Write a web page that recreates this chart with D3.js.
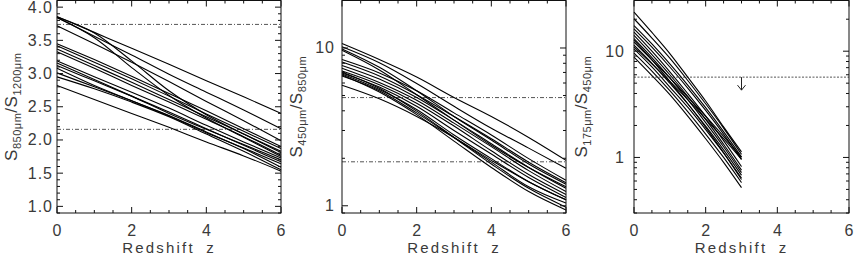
<!DOCTYPE html>
<html>
<head>
<meta charset="utf-8">
<script src="https://cdn.jsdelivr.net/npm/d3@7"></script>
<style>
  body { margin: 0; background: #fff; }
  text { font-family: "Liberation Sans", Arial, sans-serif; fill: #3a3a3a; }
</style>
</head>
<body>
<div id="chart"></div>
<script>
// redshift grids
var redshift = [0, 1, 2, 3, 4, 5, 6];
var redshiftShort = [0, 0.5, 1, 1.5, 2, 2.5, 3];
var xMajor = [0, 2, 4, 6];

// S850/S1200 model tracks
var ratio850_1200 = [
  [3.86, 3.62, 3.38, 3.14, 2.89, 2.65, 2.40],
  [3.85, 3.56, 3.28, 2.99, 2.72, 2.45, 2.17],
  [3.85, 3.61, 3.19, 2.74, 2.38, 2.09, 1.83],
  [3.84, 3.54, 3.09, 2.67, 2.33, 2.04, 1.75],
  [3.72, 3.45, 3.17, 2.88, 2.58, 2.29, 1.99],
  [3.45, 3.21, 2.96, 2.70, 2.44, 2.17, 1.90],
  [3.42, 3.17, 2.92, 2.66, 2.39, 2.13, 1.87],
  [3.37, 3.12, 2.87, 2.61, 2.35, 2.09, 1.81],
  [3.33, 3.08, 2.82, 2.57, 2.31, 2.05, 1.77],
  [3.19, 2.95, 2.72, 2.48, 2.22, 1.97, 1.73],
  [3.16, 2.91, 2.66, 2.40, 2.16, 1.93, 1.70],
  [3.12, 2.89, 2.66, 2.42, 2.17, 1.92, 1.67],
  [3.08, 2.82, 2.59, 2.36, 2.11, 1.88, 1.64],
  [3.01, 2.80, 2.59, 2.37, 2.12, 1.87, 1.59],
  [2.95, 2.77, 2.57, 2.35, 2.09, 1.83, 1.55],
  [2.82, 2.61, 2.40, 2.19, 1.97, 1.76, 1.53]
];
var obs850_1200 = [3.74, 2.16];

// S450/S850 model tracks
var ratio450_850 = [
  [10.67, 8.45, 6.55, 4.86, 3.68, 2.71, 1.94],
  [10.17, 8.05, 5.95, 4.27, 3.10, 2.32, 1.73],
  [9.87, 7.55, 5.36, 3.68, 2.61, 1.84, 1.37],
  [9.66, 7.25, 5.06, 3.49, 2.42, 1.75, 1.32],
  [8.45, 6.95, 5.36, 3.88, 2.81, 1.99, 1.45],
  [8.15, 6.65, 5.06, 3.68, 2.66, 1.89, 1.40],
  [7.75, 6.35, 4.86, 3.49, 2.47, 1.75, 1.29],
  [7.45, 6.05, 4.67, 3.34, 2.37, 1.67, 1.23],
  [7.15, 5.85, 4.47, 3.20, 2.23, 1.58, 1.18],
  [6.95, 5.65, 4.27, 3.00, 2.13, 1.51, 1.13],
  [6.85, 5.46, 4.08, 2.81, 1.99, 1.42, 1.09],
  [6.65, 5.36, 3.88, 2.71, 1.89, 1.32, 1.04],
  [7.05, 5.55, 3.98, 2.71, 1.84, 1.29, 0.98],
  [6.75, 5.26, 3.78, 2.57, 1.75, 1.23, 0.94],
  [5.80, 4.76, 3.68, 2.71, 1.94, 1.42, 1.09]
];
var obs450_850 = [4.85, 1.9];

// S175/S450 model tracks (z <= 3)
var ratio175_450 = [
  [23.3, 15.0, 9.5, 5.7, 3.4, 1.94, 1.13],
  [20.2, 13.3, 8.6, 5.3, 3.2, 1.89, 1.07],
  [17.4, 11.7, 7.6, 4.8, 2.94, 1.75, 1.01],
  [16.2, 10.9, 7.1, 4.5, 2.77, 1.66, 0.96],
  [15.1, 10.0, 6.4, 4.0, 2.45, 1.44, 0.82],
  [14.1, 9.3, 6.0, 3.75, 2.28, 1.33, 0.76],
  [13.1, 8.7, 5.6, 3.5, 2.13, 1.26, 0.72],
  [12.2, 8.3, 5.6, 3.7, 2.45, 1.58, 1.00],
  [12.7, 8.3, 5.2, 3.2, 1.92, 1.11, 0.62],
  [11.4, 7.7, 5.0, 3.2, 1.97, 1.18, 0.68],
  [11.0, 7.6, 5.2, 3.5, 2.3, 1.5, 0.96],
  [10.5, 7.1, 4.6, 2.97, 1.83, 1.10, 0.64],
  [9.6, 6.5, 4.25, 2.7, 1.66, 1.00, 0.58],
  [8.8, 5.9, 3.9, 2.45, 1.5, 0.90, 0.52]
];
var limit175_450 = 5.7;
var limitArrowTo = 4.3;
var limitZ = 3;

function draw_panel(svg, p) {
  "use strict";
  var top = 0.5, bottom = 213;

  var x = d3.scaleLinear().domain([0, 6]).range([p.left, p.right]);
  var y = (p.log ? d3.scaleLog() : d3.scaleLinear())
      .domain(p.domain).range([bottom, top]);

  var g = svg.append("g").attr("class", "panel");

  var line = d3.line()
      .x(function(d) { return x(d[0]); })
      .y(function(d) { return y(d[1]); })
      .curve(d3.curveMonotoneX);

  // reference levels
  p.levels.forEach(function(v) {
    g.append("line")
        .attr("x1", x(0)).attr("x2", x(6))
        .attr("y1", y(v)).attr("y2", y(v))
        .style("stroke", "#555")
        .style("stroke-width", 1)
        .style("stroke-dasharray", p.dash);
  });

  g.selectAll("path.track")
      .data(p.tracks)
      .enter()
      .append("path")
      .attr("class", "track")
      .attr("d", function(d) { return line(d.map(function(v, i) { return [p.z[i], v]; })); })
      .style("fill", "none")
      .style("stroke", "#000")
      .style("stroke-width", 1.1);

  // box
  g.append("rect")
      .attr("x", p.left).attr("y", top)
      .attr("width", p.right - p.left).attr("height", bottom - top)
      .style("fill", "none").style("stroke", "#111").style("stroke-width", 1);

  // x ticks, top and bottom
  x.ticks(12).forEach(function(t) {
    var len = xMajor.indexOf(t) >= 0 ? 6 : 3;
    g.append("line").attr("x1", x(t)).attr("x2", x(t))
        .attr("y1", bottom).attr("y2", bottom - len).style("stroke", "#111");
    g.append("line").attr("x1", x(t)).attr("x2", x(t))
        .attr("y1", top).attr("y2", top + len).style("stroke", "#111");
  });
  g.selectAll("text.xlab")
      .data(xMajor)
      .enter()
      .append("text")
      .attr("class", "xlab")
      .attr("x", function(d) { return x(d); })
      .attr("y", 236)
      .attr("text-anchor", "middle")
      .style("font-size", "16px")
      .text(function(d) { return d; });

  g.append("text")
      .attr("x", (p.left + p.right) / 2)
      .attr("y", 253)
      .attr("text-anchor", "middle")
      .style("font-size", "15px")
      .style("letter-spacing", "2.2px")
      .style("word-spacing", "5px")
      .text("Redshift z");

  // y ticks, left and right
  p.minor(y).forEach(function(t) {
    var len = p.major.some(function(m) { return Math.abs(m - t) < 1e-6; }) ? 6 : 3;
    g.append("line").attr("x1", p.left).attr("x2", p.left + len)
        .attr("y1", y(t)).attr("y2", y(t)).style("stroke", "#111");
    g.append("line").attr("x1", p.right).attr("x2", p.right - len)
        .attr("y1", y(t)).attr("y2", y(t)).style("stroke", "#111");
  });
  g.selectAll("text.ylab")
      .data(p.major)
      .enter()
      .append("text")
      .attr("class", "ylab")
      .attr("x", p.left - p.gap)
      .attr("y", function(d) { return Math.max(y(d) + 5.5, 11); })
      .attr("text-anchor", "end")
      .style("font-size", "16px")
      .style("letter-spacing", "1px")
      .text(p.fmt);

  // axis title with subscripts
  var title = g.append("text")
      .attr("transform", "translate(" + p.titleX + "," + ((top + bottom) / 2) + ") rotate(-90)")
      .attr("text-anchor", "middle")
      .style("font-size", "17px")
      .style("letter-spacing", "0.5px");
  title.append("tspan").text("S");
  title.append("tspan").attr("dy", 4).style("font-size", "11px").text(p.sub1);
  title.append("tspan").attr("dy", -4).text("/S");
  title.append("tspan").attr("dy", 4).style("font-size", "11px").text(p.sub2);

  if (p.limit) {
    var ax = x(limitZ), ay0 = y(limit175_450), ay1 = y(limitArrowTo);
    g.append("path")
        .attr("d", "M" + ax + "," + ay0 + "V" + ay1 +
                   "M" + (ax - 4) + "," + (ay1 - 5) + "L" + ax + "," + ay1 + "L" + (ax + 4) + "," + (ay1 - 5))
        .style("fill", "none").style("stroke", "#222").style("stroke-width", 1);
  }
}

var svg = d3.select("#chart")
    .append("svg")
    .attr("width", 854)
    .attr("height", 256);

draw_panel(svg, {
  left: 57, right: 281, log: false, domain: [0.9, 4.1],
  z: redshift, tracks: ratio850_1200, levels: obs850_1200, dash: "4,2,1,2",
  major: [1.0, 1.5, 2.0, 2.5, 3.0, 3.5, 4.0],
  minor: function(y) { return y.ticks(30); },
  fmt: d3.format(".1f"), gap: 4, titleX: 17,
  sub1: "850\u03bcm", sub2: "1200\u03bcm"
});

draw_panel(svg, {
  left: 342, right: 566, log: true, domain: [0.9, 20],
  z: redshift, tracks: ratio450_850, levels: obs450_850, dash: "4,2,1,2",
  major: [1, 10],
  minor: function(y) { return y.ticks(); },
  fmt: function(d) { return d; }, gap: 7, titleX: 302,
  sub1: "450\u03bcm", sub2: "850\u03bcm"
});

draw_panel(svg, {
  left: 634, right: 849, log: true, domain: [0.3, 30],
  z: redshiftShort, tracks: ratio175_450, levels: [limit175_450], dash: "2,1.5",
  major: [1, 10],
  minor: function(y) { return y.ticks(); },
  fmt: function(d) { return d; }, gap: 9, titleX: 587, limit: true,
  sub1: "175\u03bcm", sub2: "450\u03bcm"
});
</script>
</body>
</html>
